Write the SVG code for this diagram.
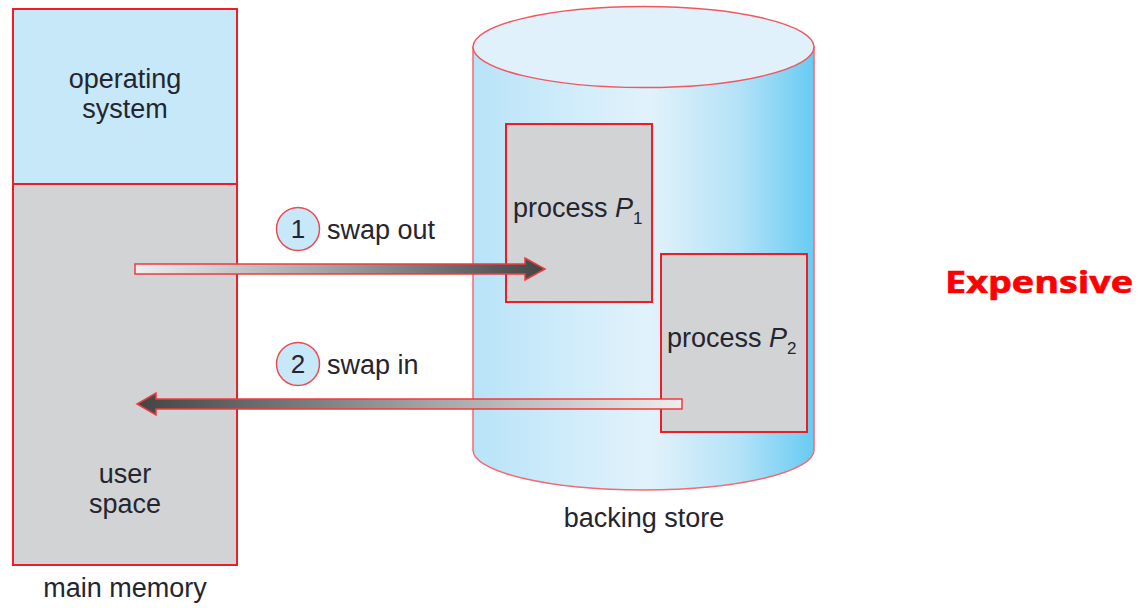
<svg xmlns="http://www.w3.org/2000/svg" width="1144" height="608" viewBox="0 0 1144 608">
<style>
.t{font-family:"Liberation Sans",Arial,Helvetica,sans-serif;font-size:27px;fill:#25252f}
.box{stroke:#ee1c24;stroke-width:2}
.arr{stroke:#f03a40;stroke-width:1.5;stroke-linejoin:miter}
.num{font-family:"Liberation Sans",Arial,sans-serif;font-size:26px;fill:#25252f;text-anchor:middle}
.circ{fill:#c6e8f8;stroke:#ef4a50;stroke-width:1.5}
</style>
<defs>
<linearGradient id="cyl" gradientUnits="userSpaceOnUse" x1="473" y1="0" x2="814" y2="0">
<stop offset="0" stop-color="#b8e3f8"/>
<stop offset="0.25" stop-color="#cdebfa"/>
<stop offset="0.52" stop-color="#e2f2fb"/>
<stop offset="0.78" stop-color="#b4e2f7"/>
<stop offset="1" stop-color="#68cbf3"/>
</linearGradient>
<linearGradient id="a1" gradientUnits="userSpaceOnUse" x1="135" y1="0" x2="545" y2="0">
<stop offset="0" stop-color="#eeeeee"/>
<stop offset="0.45" stop-color="#a6a6a6"/>
<stop offset="1" stop-color="#444444"/>
</linearGradient>
<linearGradient id="a2" gradientUnits="userSpaceOnUse" x1="682" y1="0" x2="137" y2="0">
<stop offset="0" stop-color="#eeeeee"/>
<stop offset="0.45" stop-color="#a6a6a6"/>
<stop offset="1" stop-color="#444444"/>
</linearGradient>
</defs>
<rect width="1144" height="608" fill="#ffffff"/>

<g id="main-memory">
<rect x="13" y="9" width="224" height="175" fill="#c6e8f9" class="box"/>
<rect x="13" y="184" width="224" height="381" fill="#d1d3d5" class="box"/>
<text class="t" text-anchor="middle" x="125" y="88">operating</text>
<text class="t" text-anchor="middle" x="125" y="118">system</text>
<text class="t" text-anchor="middle" x="125" y="483">user</text>
<text class="t" text-anchor="middle" x="125" y="513">space</text>
<text class="t" text-anchor="middle" x="125" y="597">main memory</text>
</g>

<g id="backing-store">
<path d="M473,47 V450 A170.5,40 0 0 0 814,450 V47 Z" fill="url(#cyl)" stroke="#f26a70" stroke-width="1.5"/>
<ellipse cx="643.5" cy="47" rx="170.5" ry="40.5" fill="#e0f1fb" stroke="#f0585e" stroke-width="1.5"/>
<text class="t" text-anchor="middle" x="644" y="527">backing store</text>
</g>

<g id="process-p1">
<rect x="506" y="124" width="146" height="178" fill="#d1d3d5" class="box"/>
<text class="t" x="513" y="217">process <tspan font-style="italic">P</tspan><tspan font-size="17" dy="7">1</tspan></text>
</g>

<g id="process-p2">
<rect x="661" y="254" width="146" height="178" fill="#d1d3d5" class="box"/>
<text class="t" x="667" y="347">process <tspan font-style="italic">P</tspan><tspan font-size="17" dy="7">2</tspan></text>
</g>

<g id="connectors">
<path class="arr" d="M135,264 H525 V258 L545,269 L525,280 V274 H135 Z" fill="url(#a1)"/>
<path class="arr" d="M682,399 H156 V393 L137,404 L156,415 V409 H682 Z" fill="url(#a2)"/>
</g>

<g id="label-swap-out">
<circle cx="298" cy="229" r="21.5" class="circ"/>
<text class="num" x="298" y="238">1</text>
<text class="t" x="327" y="239">swap out</text>
</g>

<g id="label-swap-in">
<circle cx="298" cy="364" r="21.5" class="circ"/>
<text class="num" x="298" y="373">2</text>
<text class="t" x="327" y="374">swap in</text>
</g>

<g id="expensive">
<text x="945" y="293" font-family="'Open Sans',Lato,sans-serif" font-weight="bold" font-size="30" fill="#ff0000" stroke="#ff0000" stroke-width="0.6" textLength="188" lengthAdjust="spacingAndGlyphs">Expensive</text>
</g>
</svg>
